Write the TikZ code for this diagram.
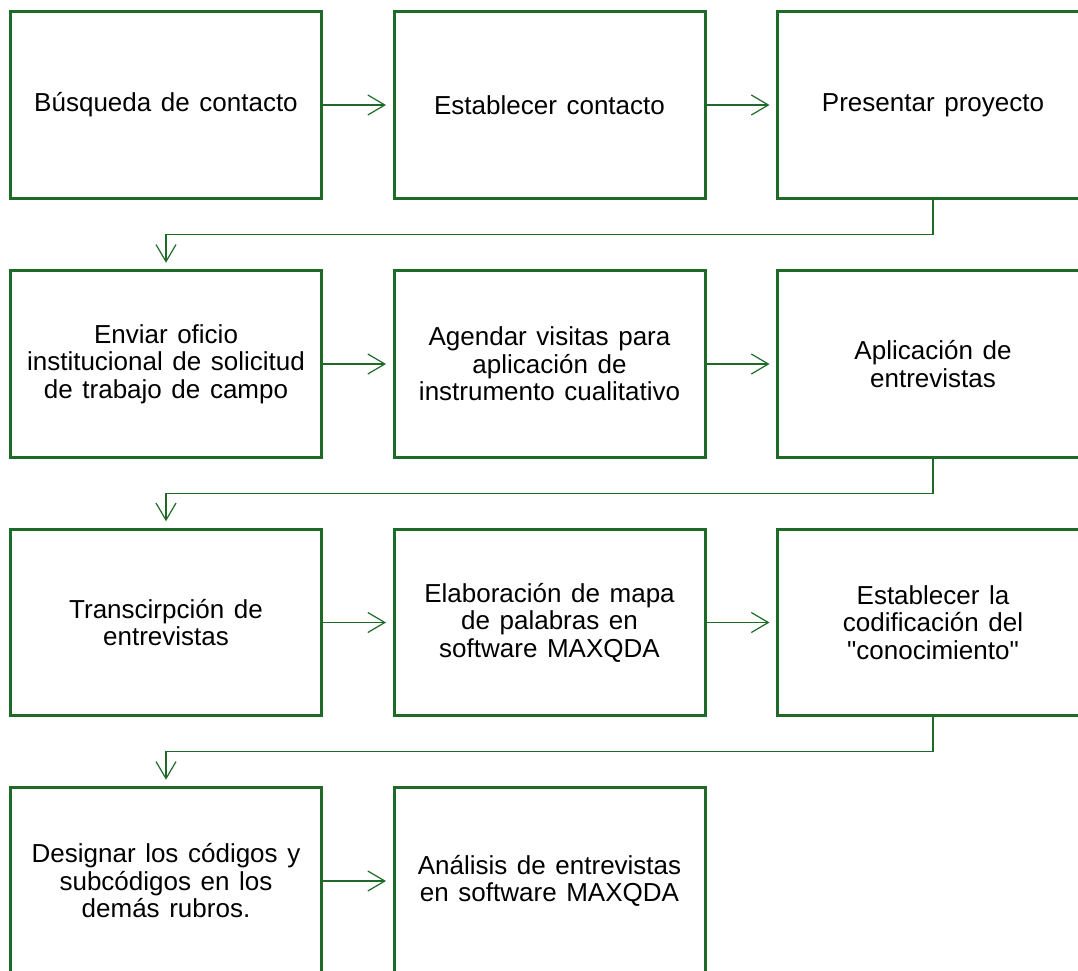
\documentclass[tikz,border=0pt]{standalone}
\usepackage{fontspec}
\setmainfont{Liberation Sans}
\usetikzlibrary{arrows.meta,calc}
\definecolor{boxgreen}{RGB}{31,106,40}
\newcommand\myboxfont{\fontsize{26}{27.5}\selectfont\spaceskip=9.6pt plus 2pt minus 1pt\relax}
\begin{document}
\begin{tikzpicture}[x=1pt,y=1pt,
  stepbox/.style={draw=boxgreen, line width=3pt, minimum width=311pt, minimum height=186.5pt,
    align=center, inner sep=0pt, font=\myboxfont},
  conn/.style={draw=boxgreen, line width=1.2pt,
    -{Straight Barb[length=17pt,width=20pt]}, shorten >=6.5pt}]
\useasboundingbox (0,0) rectangle (1078,-970);
\clip (0,0) rectangle (1078,-970);
\def\cA{166}\def\cB{549.5}\def\cC{933}
\def\rA{-105}\def\rB{-364}\def\rC{-622.5}\def\rD{-881}
\node[stepbox] (a1) at (\cA,\rA) {Búsqueda de contacto};
\node[stepbox] (a2) at (\cB,\rA) {Establecer contacto};
\node[stepbox] (a3) at (\cC,\rA) {Presentar proyecto};
\node[stepbox] (b1) at (\cA,\rB) {Enviar oficio\\institucional de solicitud\\de trabajo de campo};
\node[stepbox] (b2) at (\cB,\rB) {Agendar visitas para\\aplicación de\\instrumento cualitativo};
\node[stepbox] (b3) at (\cC,\rB) {Aplicación de\\entrevistas};
\node[stepbox] (c1) at (\cA,\rC) {Transcirpción de\\entrevistas};
\node[stepbox] (c2) at (\cB,\rC) {Elaboración de mapa\\de palabras en\\software MAXQDA};
\node[stepbox] (c3) at (\cC,\rC) {Establecer la\\codificación del\\\textquotedbl conocimiento\textquotedbl};
\node[stepbox] (d1) at (\cA,\rD) {Designar los códigos y\\subcódigos en los\\demás rubros.};
\node[stepbox] (d2) at (\cB,\rD) {Análisis de entrevistas\\en software MAXQDA};
\draw[conn] (a1.east) -- (a2.west);
\draw[conn] (a2.east) -- (a3.west);
\draw[conn] (b1.east) -- (b2.west);
\draw[conn] (b2.east) -- (b3.west);
\draw[conn] (c1.east) -- (c2.west);
\draw[conn] (c2.east) -- (c3.west);
\draw[conn] (d1.east) -- (d2.west);
\draw[conn] (a3.south) |- ($(a3.south)!0.5!(b1.north)$) -| (b1.north);
\draw[conn] (b3.south) |- ($(b3.south)!0.5!(c1.north)$) -| (c1.north);
\draw[conn] (c3.south) |- ($(c3.south)!0.5!(d1.north)$) -| (d1.north);
\end{tikzpicture}
\end{document}
